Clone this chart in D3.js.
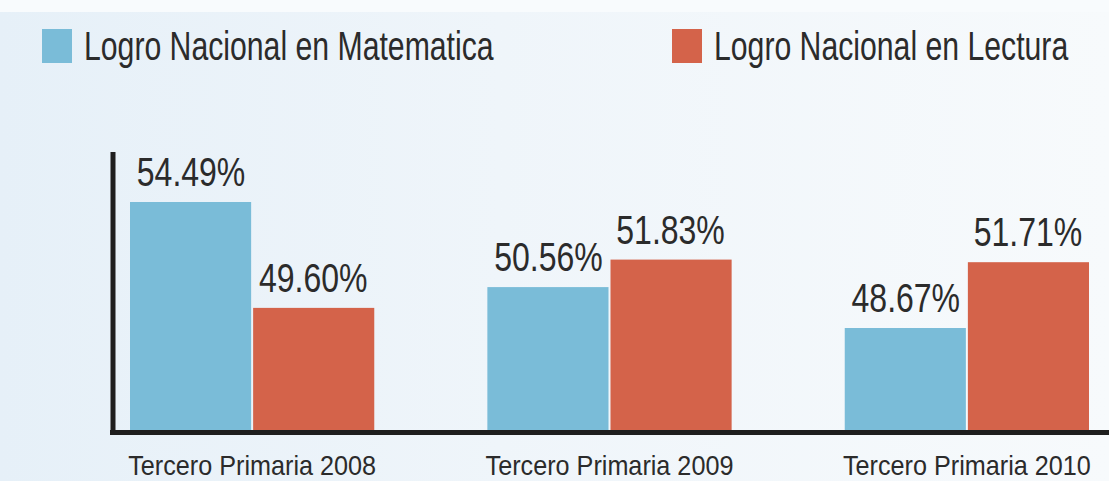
<!DOCTYPE html>
<html>

<head>
  <meta charset="UTF-8" />
  <title>Logro Nacional - Tercero Primaria</title>
  <style>
    html, body {
      margin: 0;
      padding: 0;
      overflow: hidden;
    }

    svg text {
      font-family: "Liberation Sans", Arial, Helvetica, sans-serif;
      fill: #2b2b2b;
    }
  </style>
  <script src="https://d3js.org/d3.v7.min.js"></script>
</head>

<body>
  <script>
    /* Chart data */
    const categories = ["Tercero Primaria 2008", "Tercero Primaria 2009", "Tercero Primaria 2010"];
    const seriesNames = ["Logro Nacional en Matematica", "Logro Nacional en Lectura"];
    const matematica = [54.49, 50.56, 48.67];
    const lectura = [49.60, 51.83, 51.71];

    let W = 1109,
      H = 481,
      baseY = 430,
      colors = ["#7abcd8", "#d4634a"],
      fmt = d => d.toFixed(2) + "%";

    let rows = categories.map((c, i) => ({ cat: c, values: [matematica[i], lectura[i]] }));

    let svg = d3.select("body")
      .append("svg")
      .attr("width", W)
      .attr("height", H);

    /* Background */
    let defs = svg.append("defs");
    let grad = defs.append("linearGradient")
      .attr("id", "bg")
      .attr("x1", 0).attr("x2", 1).attr("y1", 0).attr("y2", 0);
    grad.append("stop").attr("offset", "0%").attr("stop-color", "#e6f0f8");
    grad.append("stop").attr("offset", "45%").attr("stop-color", "#eff5fa");
    grad.append("stop").attr("offset", "100%").attr("stop-color", "#f7fafc");

    svg.append("rect").attr("width", W).attr("height", H).attr("fill", "url(#bg)");
    svg.append("rect").attr("width", W).attr("height", 12).attr("fill", "#f8fbfd");

    /* Scales */
    let x0 = d3.scaleBand()
      .domain(categories)
      .range([130, 1089])
      .paddingInner(0.3165)
      .paddingOuter(0);

    let x1 = d3.scaleBand()
      .domain([0, 1])
      .range([0, x0.bandwidth()])
      .padding(0);

    let y = d3.scaleLinear()
      .domain([43.96, 54.49])
      .range([baseY, 202]);

    /* Bars */
    let groups = svg.append("g")
      .selectAll(".group")
      .data(rows)
      .enter()
      .append("g")
      .attr("class", "group")
      .attr("transform", d => `translate(${x0(d.cat)},0)`);

    let bars = groups.selectAll(".bar")
      .data(d => d.values.map((v, i) => ({ i: i, v: v })))
      .enter();

    bars.append("rect")
      .attr("class", "bar")
      .attr("x", d => x1(d.i) + (d.i == 1 ? 1 : 0))
      .attr("width", d => x1.bandwidth() - 1)
      .attr("y", d => y(d.v))
      .attr("height", d => baseY - y(d.v))
      .attr("fill", d => colors[d.i]);

    /* Value labels (condensed look) */
    bars.append("text")
      .attr("text-anchor", "middle")
      .attr("font-size", 40)
      .attr("transform", d => `translate(${x1(d.i) + x1.bandwidth() / 2},${y(d.v) - 16}) scale(0.8,1)`)
      .text(d => fmt(d.v));

    /* Axes */
    let axisG = svg.append("g").attr("stroke", "#1e1e1e").attr("stroke-width", 5);
    axisG.append("line").attr("x1", 113).attr("x2", 113).attr("y1", 152).attr("y2", 435);
    axisG.append("line").attr("x1", 110).attr("x2", W).attr("y1", 432.5).attr("y2", 432.5);

    let xAxis = svg.append("g")
      .attr("transform", `translate(0,${baseY})`)
      .call(d3.axisBottom(x0).tickSize(0));
    xAxis.select(".domain").remove();
    xAxis.selectAll("text")
      .attr("font-size", 28)
      .attr("fill", "#2b2b2b")
      .attr("y", 0)
      .attr("dy", 0)
      .attr("transform", "translate(0,45) scale(0.9,1)");

    /* Legend */
    let legendX = [42, 672];
    let legend = svg.append("g")
      .selectAll(".legend-item")
      .data(seriesNames)
      .enter()
      .append("g")
      .attr("class", "legend-item")
      .attr("transform", (d, i) => `translate(${legendX[i]},29)`);

    legend.append("rect")
      .attr("width", 30)
      .attr("height", 34)
      .attr("fill", (d, i) => colors[i]);

    legend.append("text")
      .attr("font-size", 40)
      .attr("transform", "translate(42,31) scale(0.755,1)")
      .text(d => d);
  </script>
</body>

</html>
